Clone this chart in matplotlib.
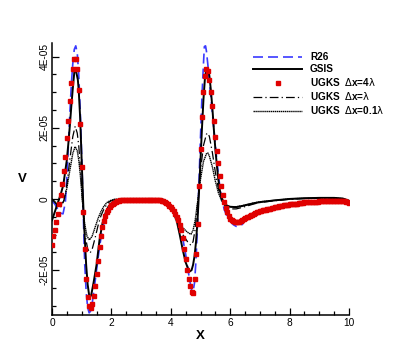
import numpy as np
import matplotlib
matplotlib.use('Agg')
import matplotlib.pyplot as plt
from matplotlib.ticker import MultipleLocator, FuncFormatter

plt.rcParams['font.family'] = ['Liberation Sans', 'DejaVu Sans']
plt.rcParams['mathtext.fontset'] = 'dejavusans'

# values of V are given in units of 1E-05

# R26 (blue dashed)
x_r26 = [0.0, 0.1, 0.2, 0.3, 0.37, 0.45, 0.5, 0.55, 0.6, 0.65, 0.7, 0.75, 0.8, 0.85, 0.9,
         0.95, 1.0, 1.05, 1.1, 1.15, 1.2, 1.25, 1.3, 1.35, 1.4, 1.5, 1.6, 1.7, 1.8, 1.9,
         2.0, 2.1, 2.2, 2.4, 2.6, 3.0, 3.6, 3.7, 3.8, 3.9, 4.0, 4.1, 4.2, 4.3, 4.4,
         4.5, 4.6, 4.65, 4.7, 4.75, 4.8, 4.85, 4.9, 4.95, 5.0, 5.05, 5.1, 5.13, 5.17, 5.2,
         5.25, 5.3, 5.35, 5.4, 5.45, 5.5, 5.55, 5.6, 5.65, 5.7, 5.8, 5.9, 6.0, 6.1, 6.2,
         6.3, 6.4, 6.5, 6.6, 6.7, 7.0, 7.5, 8.0, 8.5, 9.0, 9.5, 9.8, 10.0]
v_r26 = [-0.05, -0.15, -0.3, -0.4, -0.42, -0.1, 0.6, 1.5, 2.4, 3.2, 3.8, 4.2, 4.3, 4.1, 3.5,
         2.5, 1.2, -0.3, -1.8, -2.6, -3.05, -3.2, -3.15, -2.95, -2.65, -2.0, -1.35, -0.85, -0.5, -0.3,
         -0.18, -0.11, -0.07, -0.04, -0.02, -0.02, -0.02, -0.04, -0.07, -0.12, -0.2, -0.32, -0.5, -0.75, -1.1,
         -1.55, -2.1, -2.35, -2.55, -2.6, -2.35, -1.7, -0.7, 0.5, 1.75, 2.9, 3.8, 4.28, 4.3, 4.15,
         3.75, 3.3, 2.85, 2.4, 1.95, 1.5, 1.1, 0.7, 0.35, 0.05, -0.3, -0.5, -0.63, -0.72, -0.77,
         -0.77, -0.72, -0.62, -0.52, -0.45, -0.36, -0.24, -0.15, -0.1, -0.07, -0.05, -0.06, -0.1]

# GSIS (solid)
x_gsis = [0.0, 0.1, 0.2, 0.3, 0.38, 0.45, 0.5, 0.55, 0.6, 0.65, 0.7, 0.75, 0.78, 0.82, 0.87,
          0.9, 0.95, 1.0, 1.05, 1.1, 1.15, 1.2, 1.25, 1.28, 1.32, 1.4, 1.5, 1.6, 1.7, 1.8,
          1.9, 2.0, 2.1, 2.2, 2.4, 2.6, 3.0, 3.5, 3.7, 3.8, 3.9, 4.0, 4.1, 4.2, 4.3,
          4.4, 4.5, 4.6, 4.65, 4.7, 4.75, 4.8, 4.85, 4.9, 4.95, 5.0, 5.05, 5.1, 5.15, 5.2,
          5.23, 5.27, 5.3, 5.35, 5.4, 5.45, 5.5, 5.55, 5.6, 5.65, 5.7, 5.8, 5.9, 6.0, 6.2,
          6.4, 6.6, 6.8, 7.0, 7.5, 8.0, 8.5, 9.0, 9.5, 9.8, 10.0]
v_gsis = [-0.6, -0.35, -0.1, 0.15, 0.39, 0.8, 1.1, 1.55, 2.05, 2.6, 3.1, 3.55, 3.63, 3.55, 3.35,
          3.05, 2.25, 1.05, -0.1, -1.05, -1.85, -2.4, -2.7, -2.76, -2.7, -2.35, -1.85, -1.15, -0.68, -0.4,
          -0.22, -0.12, -0.07, -0.04, -0.02, 0.0, 0.0, 0.0, -0.02, -0.05, -0.1, -0.2, -0.4, -0.62, -1.0,
          -1.42, -1.78, -2.0, -2.03, -2.0, -1.85, -1.6, -1.2, -0.6, 0.2, 1.1, 2.0, 2.8, 3.4, 3.66,
          3.68, 3.6, 3.45, 3.05, 2.55, 1.95, 1.4, 0.95, 0.55, 0.25, 0.05, -0.12, -0.19, -0.22, -0.23,
          -0.2, -0.16, -0.12, -0.09, -0.04, 0.0, 0.02, 0.03, 0.03, 0.01, -0.05]

# UGKS dx = lambda (dash-dot)
x_ugks1 = [0.0, 0.1, 0.2, 0.3, 0.4, 0.5, 0.6, 0.7, 0.78, 0.85, 0.9, 0.95, 1.0, 1.05, 1.1,
           1.2, 1.28, 1.35, 1.45, 1.55, 1.65, 1.75, 1.85, 1.95, 2.1, 2.3, 3.7, 3.8, 3.9, 4.0,
           4.1, 4.2, 4.3, 4.4, 4.5, 4.6, 4.68, 4.75, 4.82, 4.9, 5.0, 5.1, 5.2, 5.25, 5.3,
           5.4, 5.5, 5.6, 5.7, 5.8, 5.9, 6.0, 6.2, 6.4, 6.6, 6.8, 7.0, 7.5, 8.0, 8.5,
           9.0, 9.5, 9.8, 10.0]
v_ugks1 = [0.0, -0.1, -0.2, -0.22, -0.05, 0.4, 1.1, 1.75, 2.04, 1.85, 1.5, 0.95, 0.3, -0.4, -0.95,
           -1.4, -1.52, -1.42, -1.1, -0.75, -0.47, -0.28, -0.15, -0.07, -0.02, 0.0, 0.0, -0.04, -0.1, -0.22,
           -0.4, -0.6, -0.82, -1.0, -1.12, -1.25, -1.3, -1.2, -0.85, -0.15, 0.8, 1.5, 1.82, 1.85, 1.75,
           1.3, 0.75, 0.3, 0.0, -0.17, -0.25, -0.28, -0.28, -0.24, -0.19, -0.14, -0.1, -0.05, -0.01, 0.01,
           0.02, 0.02, 0.0, -0.05]

# UGKS dx = 0.1 lambda (dotted)
x_ugks01 = [0.0, 0.1, 0.2, 0.3, 0.4, 0.5, 0.6, 0.7, 0.78, 0.85, 0.9, 0.95, 1.0, 1.05, 1.1,
            1.18, 1.26, 1.35, 1.45, 1.55, 1.65, 1.75, 1.85, 1.95, 2.1, 2.3, 3.7, 3.8, 3.9, 4.0,
            4.1, 4.2, 4.3, 4.4, 4.5, 4.6, 4.68, 4.75, 4.82, 4.9, 5.0, 5.1, 5.2, 5.25, 5.3,
            5.4, 5.5, 5.6, 5.7, 5.8, 5.9, 6.0, 6.2, 6.4, 6.6, 6.8, 7.0, 7.5, 8.0, 8.5,
            9.0, 9.5, 9.8, 10.0]
v_ugks01 = [0.0, -0.08, -0.15, -0.17, -0.05, 0.3, 0.8, 1.28, 1.47, 1.35, 1.1, 0.7, 0.2, -0.3, -0.7,
            -1.05, -1.15, -1.05, -0.8, -0.55, -0.35, -0.2, -0.1, -0.05, -0.01, 0.0, 0.0, -0.03, -0.08, -0.18,
            -0.32, -0.5, -0.67, -0.8, -0.89, -0.96, -0.99, -0.88, -0.6, -0.1, 0.55, 1.05, 1.27, 1.29, 1.2,
            0.9, 0.5, 0.18, -0.03, -0.15, -0.2, -0.22, -0.22, -0.19, -0.15, -0.11, -0.08, -0.04, 0.0, 0.02,
            0.03, 0.03, 0.01, -0.05]

# UGKS dx = 4 lambda (squares), x = 0, 0.05, ..., 10
x_ugks4 = np.linspace(0, 10, 201)
v_ugks4 = [-1.30, -1.05, -0.87, -0.66, -0.42, -0.15, 0.10, 0.42, 0.78, 1.18,
           1.70, 2.20, 2.75, 3.25, 3.66, 3.92, 3.94, 3.66, 3.05, 2.10,
           0.90, -0.36, -1.40, -2.25, -2.75, -3.00, -3.05, -2.95, -2.72, -2.45,
           -2.10, -1.75, -1.35, -1.05, -0.80, -0.62, -0.48, -0.38, -0.30, -0.23,
           -0.18, -0.14, -0.11, -0.08, -0.06, -0.05, -0.04, -0.04, -0.04, -0.04,
           -0.04, -0.04, -0.04, -0.04, -0.04, -0.04, -0.04, -0.04, -0.04, -0.04,
           -0.04, -0.04, -0.04, -0.04, -0.04, -0.04, -0.04, -0.04, -0.04, -0.04,
           -0.04, -0.04, -0.04, -0.04, -0.05, -0.07, -0.09, -0.12, -0.15, -0.19,
           -0.24, -0.29, -0.35, -0.42, -0.50, -0.60, -0.72, -0.88, -1.10, -1.40,
           -1.70, -2.00, -2.25, -2.45, -2.60, -2.64, -2.25, -1.55, -0.70, 0.35,
           1.40, 2.30, 3.00, 3.45, 3.65, 3.59, 3.35, 3.00, 2.60, 2.20,
           1.75, 1.35, 1.00, 0.65, 0.35, 0.10, -0.10, -0.25, -0.38, -0.48,
           -0.55, -0.59, -0.62, -0.64, -0.65, -0.65, -0.64, -0.62, -0.60, -0.57,
           -0.54, -0.52, -0.50, -0.48, -0.46, -0.44, -0.42, -0.40, -0.38, -0.37,
           -0.35, -0.34, -0.32, -0.31, -0.30, -0.29, -0.28, -0.27, -0.26, -0.25,
           -0.24, -0.23, -0.22, -0.21, -0.20, -0.19, -0.18, -0.17, -0.17, -0.16,
           -0.15, -0.15, -0.14, -0.14, -0.13, -0.13, -0.12, -0.12, -0.11, -0.11,
           -0.10, -0.10, -0.10, -0.09, -0.09, -0.09, -0.08, -0.08, -0.08, -0.08,
           -0.07, -0.07, -0.07, -0.07, -0.07, -0.06, -0.06, -0.06, -0.06, -0.06,
           -0.06, -0.06, -0.06, -0.06, -0.06, -0.06, -0.07, -0.07, -0.08, -0.10,
           -0.12]

scale = 1e-5

fig = plt.figure(figsize=(3.99, 3.55), dpi=100)
ax = fig.add_axes([52/399, 40/355, 297/399, 272/355])

ax.plot(x_r26, np.array(v_r26)*scale, color='#3a3aff', lw=1.2, ls=(0, (6, 3)), label='R26')
ax.plot(x_gsis, np.array(v_gsis)*scale, color='black', lw=1.4, label='GSIS')
ax.plot(x_ugks4, np.array(v_ugks4)*scale, ls='none', marker='s', ms=3.2, color='#e00000',
        mec='#e00000', label='UGKS  $\\Delta$x=4$\\mathrm{\\lambda}$', zorder=5)
ax.plot(x_ugks1, np.array(v_ugks1)*scale, color='black', lw=0.9, ls=(0, (7, 2.5, 1, 2.5)),
        label='UGKS  $\\Delta$x=$\\mathrm{\\lambda}$')
ax.plot(x_ugks01, np.array(v_ugks01)*scale, color='black', lw=1.0, ls=(0, (1, 0.4)),
        label='UGKS  $\\Delta$x=0.1$\\mathrm{\\lambda}$')

ax.set_xlim(0, 10)
ax.set_ylim(-3.26e-5, 4.38e-5)
ax.xaxis.set_major_locator(MultipleLocator(2))
ax.xaxis.set_minor_locator(MultipleLocator(0.5))
ax.yaxis.set_major_locator(MultipleLocator(2e-5))
ax.yaxis.set_minor_locator(MultipleLocator(0.5e-5))
ax.yaxis.set_major_formatter(FuncFormatter(lambda v, p: '0' if abs(v) < 1e-12 else '%.0E' % v))

for s in ['top', 'right']:
    ax.spines[s].set_visible(False)
for s in ['left', 'bottom']:
    ax.spines[s].set_linewidth(1.1)
ax.tick_params(which='both', direction='in', width=0.9, labelsize=7.3)
ax.tick_params(which='major', length=5)
ax.tick_params(which='minor', length=3)
ax.tick_params(axis='x', pad=2.5)
ax.tick_params(axis='y', pad=1.5)
for lab in ax.get_yticklabels():
    lab.set_rotation(90)
    lab.set_va('center')

ax.set_xlabel('X', fontsize=9.5, fontweight='bold', labelpad=1)
ax.set_ylabel('V', fontsize=9.5, fontweight='bold', rotation=0, ha='center', va='center')
ax.yaxis.set_label_coords(-0.101, 0.5)

ax.legend(loc='upper left', bbox_to_anchor=(253/399, 1 - 52/355), bbox_transform=fig.transFigure,
          frameon=False, prop={'weight': 'bold', 'size': 7.2}, handlelength=4.9, handletextpad=0.8,
          labelspacing=0.2, borderpad=0, borderaxespad=0, numpoints=1)

fig.savefig('out.png', dpi=100)
